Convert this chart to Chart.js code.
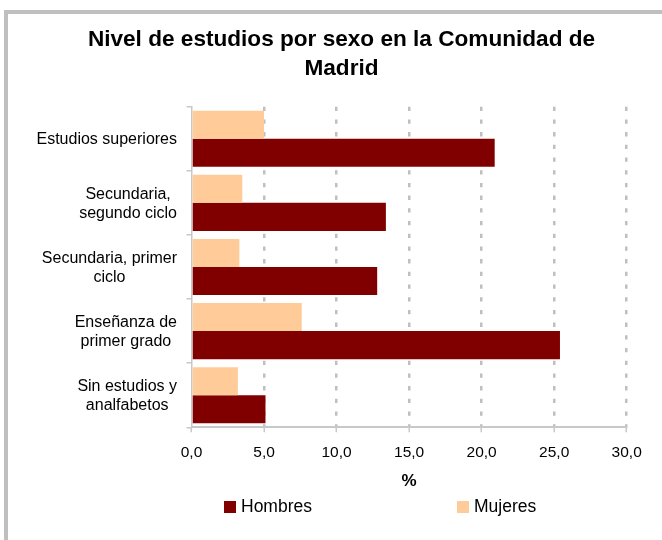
<!DOCTYPE html>
<html>
<head>
<meta charset="utf-8">
<script src="https://cdn.jsdelivr.net/npm/chart.js@4/dist/chart.umd.min.js"></script>
<style>
  html, body { margin: 0; padding: 0; background: #ffffff; overflow: hidden; }
  #wrap { position: relative; width: 662px; height: 540px; }
  #frame { position: absolute; left: 4px; top: 10px; width: 720px; height: 600px; border: 4px solid #bfbfbf; box-sizing: border-box; }
  #c { position: absolute; left: 0; top: 0; }
</style>
</head>
<body>
<div id="wrap">
  <div id="frame"></div>
  <canvas id="c" width="662" height="540"></canvas>
</div>
<script>
const titleLines = ["Nivel de estudios por sexo en la Comunidad de", "Madrid"];
const categories = [
  ["Estudios superiores"],
  ["Secundaria,", "segundo ciclo"],
  ["Secundaria, primer", "ciclo"],
  ["Enseñanza de", "primer grado"],
  ["Sin estudios y", "analfabetos"]
];
const hombres = [20.9, 13.4, 12.8, 25.4, 5.1];
const mujeres = [5.0, 3.5, 3.3, 7.6, 3.2];
const xTicks = [0, 5, 10, 15, 20, 25, 30];
const xTitle = "%";

const FONT = "'Liberation Sans', Arial, Helvetica, sans-serif";
const RED = "#800000";
const PEACH = "#FFCC99";

const yLabelPlugin = {
  id: 'yLabels',
  afterDraw(chart) {
    const ctx = chart.ctx;
    const ys = chart.scales.y;
    const right = 177;
    const lh = 18.5;
    ctx.save();
    ctx.font = "16px " + FONT;
    ctx.fillStyle = "#000";
    ctx.textAlign = "center";
    ctx.textBaseline = "middle";
    chart.data.labels.forEach((lab, i) => {
      const lines = Array.isArray(lab) ? lab : [lab];
      const w = Math.max(...lines.map(l => ctx.measureText(l).width));
      const cx = right - w / 2;
      const cy = ys.getPixelForValue(i) + 1;
      lines.forEach((l, j) => {
        ctx.fillText(l, cx, cy + (j - (lines.length - 1) / 2) * lh);
      });
    });
    ctx.restore();
  }
};

const legendPlugin = {
  id: 'customLegend',
  afterDraw(chart) {
    const ctx = chart.ctx;
    const items = chart.data.datasets.slice().reverse();
    const starts = [224, 457];
    ctx.save();
    ctx.font = "17.5px " + FONT;
    ctx.textBaseline = "middle";
    ctx.textAlign = "left";
    items.forEach((ds, i) => {
      const x = starts[i];
      ctx.fillStyle = ds.backgroundColor;
      ctx.fillRect(x, 501, 12, 12);
      ctx.fillStyle = "#000";
      ctx.fillText(ds.label, x + 17, 507.5);
    });
    ctx.restore();
  }
};

new Chart(document.getElementById('c'), {
  type: 'bar',
  data: {
    labels: categories,
    datasets: [
      { label: 'Mujeres', data: mujeres, backgroundColor: PEACH, categoryPercentage: 0.874, barPercentage: 1.0 },
      { label: 'Hombres', data: hombres, backgroundColor: RED, categoryPercentage: 0.874, barPercentage: 1.0 }
    ]
  },
  options: {
    indexAxis: 'y',
    responsive: false,
    animation: false,
    devicePixelRatio: 1,
    layout: { padding: { left: 56.3, right: 35.3, top: 0, bottom: 48.8 } },
    plugins: {
      legend: { display: false },
      tooltip: { enabled: false },
      title: {
        display: true,
        text: titleLines,
        color: '#000',
        font: { family: FONT, size: 22.6, weight: 'bold', lineHeight: 1.283 },
        padding: { top: 25.1, bottom: 23.6 }
      }
    },
    scales: {
      x: {
        min: 0, max: 30,
        afterBuildTicks: (s) => { s.ticks = xTicks.map(v => ({ value: v })); },
        afterFit: (s) => { s.height = 63.9; },
        ticks: {
          color: '#000',
          padding: 11.6,
          font: { family: FONT, size: 15.5 },
          callback: (v) => Number(v).toFixed(1).replace('.', ',')
        },
        grid: {
          color: (c) => (c.tick && c.tick.value === 0) ? 'rgba(0,0,0,0)' : '#bfbfbf',
          lineWidth: 2.5,
          drawTicks: true,
          tickLength: 5,
          tickColor: '#c8c8c8',
          tickWidth: 1.5,
          tickBorderDash: []
        },
        border: { display: true, color: '#c8c8c8', width: 2, dash: [4.3, 8.4] },
        title: {
          display: true, text: xTitle, color: '#000',
          font: { family: FONT, size: 17, weight: 'bold' },
          padding: { top: 9.9, bottom: 0 }
        }
      },
      y: {
        ticks: { display: false },
        grid: { drawOnChartArea: false, drawTicks: true, tickLength: 5, color: '#c8c8c8', lineWidth: 1.5 },
        border: { display: true, color: '#c8c8c8', width: 1.5 },
        afterFit: (s) => { s.width = 135.2; }
      }
    }
  },
  plugins: [yLabelPlugin, legendPlugin]
});
</script>
</body>
</html>
